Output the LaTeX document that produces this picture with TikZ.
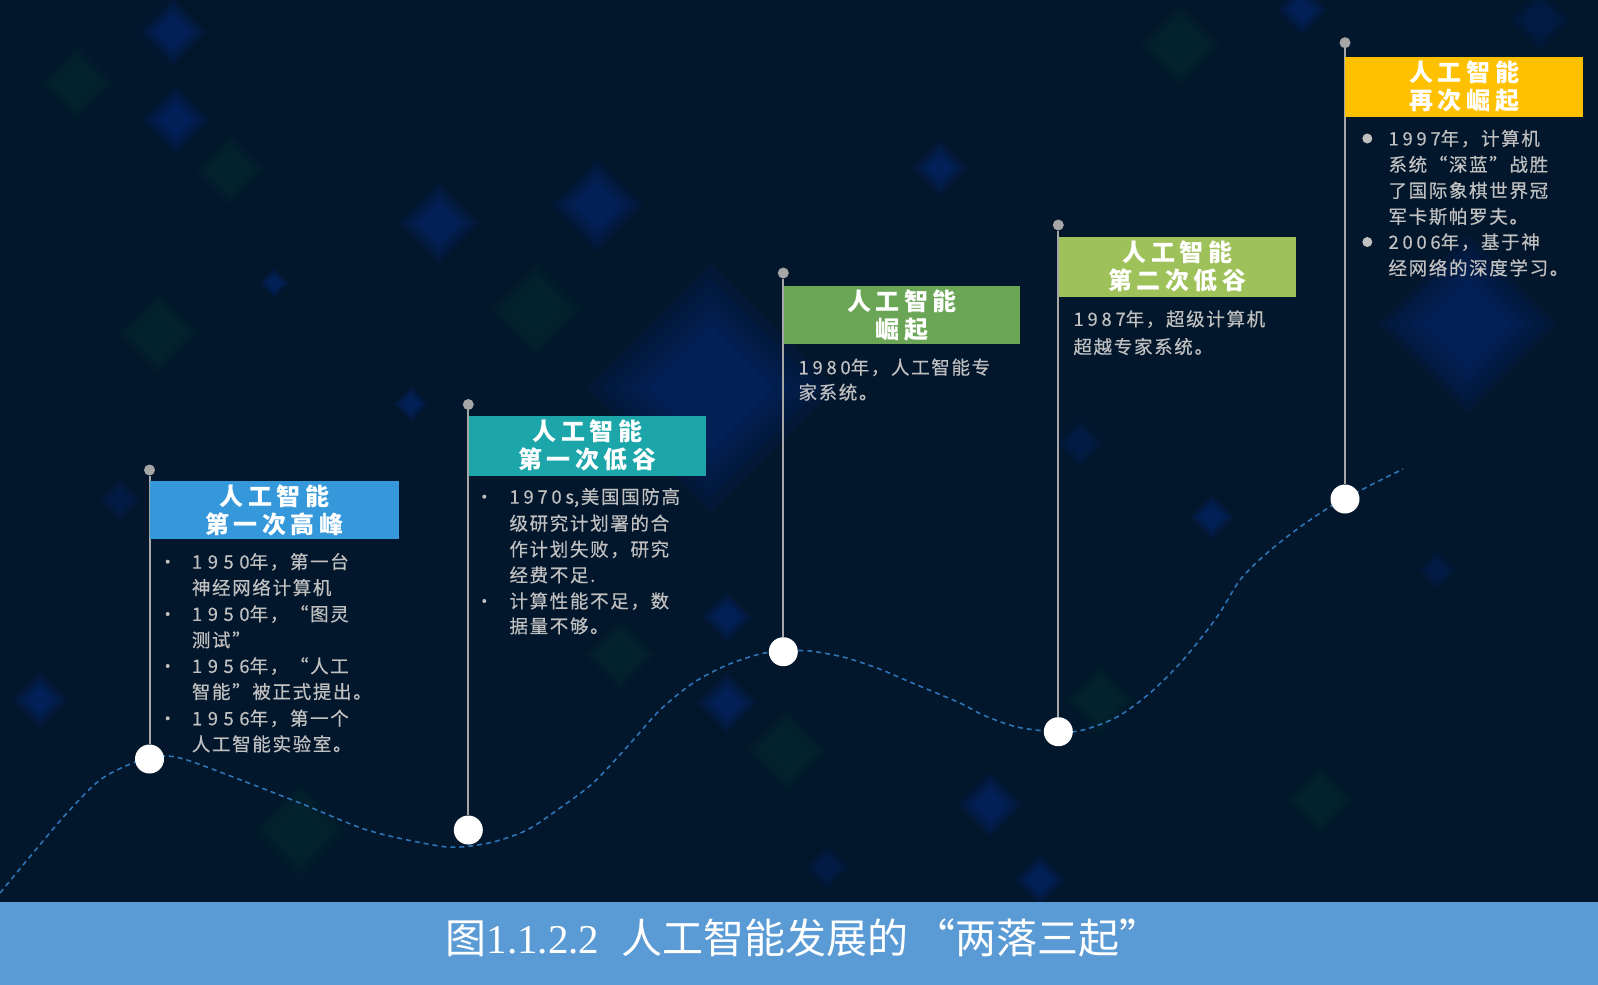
\documentclass[tikz,border=0pt]{standalone}
\usepackage{fontspec}
\newfontfamily\cjk[LetterSpace=9,FakeBold=0.4]{Noto Sans CJK SC}
\newfontfamily\cjkhead[LetterSpace=19]{Noto Sans CJK SC}
\newfontfamily\cjkcap{Noto Sans CJK SC}
\newfontfamily\capnum{Liberation Serif}
\newfontfamily\digA[LetterSpace=30,FakeBold=0.4]{Noto Sans CJK SC}
\newfontfamily\digB[LetterSpace=20,FakeBold=0.4]{Noto Sans CJK SC}
\newcommand\dA[1]{{\digA #1}}
\newcommand\dB[1]{{\digB #1}}
\definecolor{bg}{RGB}{2,22,44}
\definecolor{cA}{RGB}{52,152,219}
\definecolor{cB}{RGB}{28,166,170}
\definecolor{cC}{RGB}{106,166,86}
\definecolor{cD}{RGB}{159,193,90}
\definecolor{cE}{RGB}{255,192,0}
\definecolor{band}{RGB}{91,155,213}
\definecolor{txt}{RGB}{192,192,192}
\definecolor{polec}{RGB}{166,166,166}
\definecolor{wavec}{RGB}{46,117,182}
\definecolor{bokblue}{RGB}{10,55,160}
\definecolor{bokgreen}{RGB}{10,80,45}
\newcommand\dmd[4]{\foreach \s in {1.25,1.1,0.95,0.8,0.62}{\fill[#4] (#1,#2) ++(0,-#3*\s) -- ++(#3*\s,#3*\s) -- ++(-#3*\s,#3*\s) -- ++(-#3*\s,-#3*\s) -- cycle;}}
\begin{document}
\begin{tikzpicture}[x=1pt,y=-1pt,
  hdr/.style={anchor=north west, inner sep=0pt, align=center, text=white,
    font=\cjkhead\bfseries\fontsize{24}{28}\selectfont},
  body/.style={anchor=west, inner sep=0pt, text=txt,
    font=\cjk\fontsize{18.5}{24}\selectfont, text height=16.2pt, text depth=2.3pt},
  topdot/.style={circle, fill=polec, minimum size=11pt, inner sep=0pt},
  endball/.style={circle, fill=white, minimum size=29pt, inner sep=0pt},
  polel/.style={draw=polec, line width=2pt},
  sbul/.style={circle, fill=txt, minimum size=4pt, inner sep=0pt},
  bbul/.style={circle, fill=txt, minimum size=10pt, inner sep=0pt},
  bokB/.style={fill=bokblue, fill opacity=0.09},
  bokBs/.style={fill=bokblue, fill opacity=0.05},
  bokG/.style={fill=bokgreen, fill opacity=0.06},
  wave/.style={draw=wavec, line width=1.6pt, dash pattern=on 5pt off 4pt}]
\fill[bg] (0,0) rectangle (1598,985);
\useasboundingbox (0,0) rectangle (1598,985);
% background bokeh
\dmd{173}{32}{27}{bokB}
\dmd{176}{120}{27}{bokB}
\dmd{77}{83}{32}{bokG}
\dmd{230}{170}{30}{bokG}
\dmd{439}{223}{32}{bokB}
\dmd{597}{205}{37}{bokB}
\dmd{711}{388}{100}{bokB}
\dmd{536}{310}{40}{bokG}
\dmd{158}{333}{35}{bokG}
\dmd{274}{283}{12}{bokB}
\dmd{411}{404}{14}{bokB}
\dmd{940}{168}{22}{bokB}
\dmd{1302}{10}{20}{bokB}
\dmd{1467}{324}{72}{bokB}
\dmd{1080}{443}{20}{bokBs}
\dmd{1212}{517}{18}{bokB}
\dmd{1437}{570}{16}{bokBs}
\dmd{727}{617}{20}{bokB}
\dmd{727}{703}{24}{bokB}
\dmd{827}{867}{18}{bokBs}
\dmd{787}{750}{35}{bokG}
\dmd{40}{700}{22}{bokB}
\dmd{120}{500}{18}{bokBs}
\dmd{300}{830}{40}{bokG}
\dmd{620}{655}{30}{bokG}
\dmd{990}{805}{26}{bokB}
\dmd{1180}{45}{35}{bokG}
\dmd{1320}{800}{30}{bokG}
\dmd{1100}{700}{30}{bokG}
\dmd{1540}{20}{25}{bokBs}
\dmd{1040}{880}{20}{bokB}
% wave
\draw[wave] plot[smooth, tension=0.5] coordinates {(0,893) (33,853) (67,813) (100,780) (133,763) (163,756) (187,760) (233,777) (300,803) (367,830) (433,845) (460,847) (493,842) (527,830) (560,808) (593,783) (627,747) (660,710) (693,683) (727,665) (760,654) (784,651) (810,651) (843,657) (877,668) (910,682) (960,703) (983,715) (1017,727) (1057,732) (1083,730) (1117,717) (1150,693) (1183,660) (1217,617) (1240,580) (1267,553) (1300,527) (1333,505) (1367,487) (1403,469)};
% poles
\node[topdot] (t1) at (149.5,470) {};
\node[endball] (b1) at (149.5,759) {};
\node[topdot] (t2) at (468.3,404.5) {};
\node[endball] (b2) at (468.3,830) {};
\node[topdot] (t3) at (783.3,273) {};
\node[endball] (b3) at (783.3,651.7) {};
\node[topdot] (t4) at (1058.3,225) {};
\node[endball] (b4) at (1058.3,731.7) {};
\node[topdot] (t5) at (1345,42.7) {};
\node[endball] (b5) at (1345,499) {};
\draw[polel] (t1) -- (b1);
\draw[polel] (t2) -- (b2);
\draw[polel] (t3) -- (b3);
\draw[polel] (t4) -- (b4);
\draw[polel] (t5) -- (b5);
% headers
\node[hdr, fill=cA, minimum width=249.5pt, minimum height=58.3pt] (h1) at (149.5,480.7) {人工智能\\第一次高峰};
\node[hdr, fill=cB, minimum width=237.7pt, minimum height=60pt] (h2) at (468.3,415.7) {人工智能\\第一次低谷};
\node[hdr, fill=cC, minimum width=236.7pt, minimum height=58.3pt] (h3) at (783.3,285.7) {人工智能\\崛起};
\node[hdr, fill=cD, minimum width=237.7pt, minimum height=60pt] (h4) at (1058.3,236.7) {人工智能\\第二次低谷};
\node[hdr, fill=cE, minimum width=238pt, minimum height=60pt] (h5) at (1345,56.7) {人工智能\\再次崛起};
% column 1
\node[sbul] (u11) at (167.7,561.7) {};
\node[sbul] (u12) at (167.7,614) {};
\node[sbul] (u13) at (167.7,666) {};
\node[sbul] (u14) at (167.7,718.3) {};
\node[body] (l11) at (191.7,561.7) {\dA{1950}年，第一台};
\node[body] (l12) at (191.7,587.7) {神经网络计算机};
\node[body] (l13) at (191.7,614) {\dA{1950}年，“图灵};
\node[body] (l14) at (191.7,640) {测试”};
\node[body] (l15) at (191.7,666) {\dA{1956}年，“人工};
\node[body] (l16) at (191.7,691.7) {智能”被正式提出。};
\node[body] (l17) at (191.7,718.3) {\dA{1956}年，第一个};
\node[body] (l18) at (191.7,744) {人工智能实验室。};
% column 2
\node[sbul] (u21) at (484.3,496.7) {};
\node[sbul] (u22) at (484.3,601) {};
\node[body] (l21) at (509.3,496.7) {\dB{1970s},美国国防高};
\node[body] (l22) at (509.3,523.3) {级研究计划署的合};
\node[body] (l23) at (509.3,549.3) {作计划失败，研究};
\node[body] (l24) at (509.3,575) {经费不足.};
\node[body] (l25) at (509.3,601) {计算性能不足，数};
\node[body] (l26) at (509.3,626) {据量不够。};
% column 3
\node[body] (l31) at (798.3,367.3) {\dB{1980}年，人工智能专};
\node[body] (l32) at (798.3,392.3) {家系统。};
% column 4
\node[body] (l41) at (1073.3,319) {\dB{1987}年，超级计算机};
\node[body] (l42) at (1073.3,346.7) {超越专家系统。};
% column 5
\node[bbul] (u51) at (1367.3,138.5) {};
\node[bbul] (u52) at (1367.3,242) {};
\node[body] (l51) at (1388.3,138.5) {\dB{1997}年，计算机};
\node[body] (l52) at (1388.3,164.5) {系统“深蓝”战胜};
\node[body] (l53) at (1388.3,190.5) {了国际象棋世界冠};
\node[body] (l54) at (1388.3,216.5) {军卡斯帕罗夫。};
\node[body] (l55) at (1388.3,242) {\dB{2006}年，基于神};
\node[body] (l56) at (1388.3,268) {经网络的深度学习。};
% caption band
\fill[band] (0,902) rectangle (1598,985);
\node[text=white, inner sep=0pt, font=\fontsize{41}{48}\selectfont] (cap) at (803,938) {{\cjkcap 图}{\capnum 1.1.2.2}\hspace{22pt}{\cjkcap 人工智能发展的\hspace{6pt}“两落三起”}};
\end{tikzpicture}
\end{document}
